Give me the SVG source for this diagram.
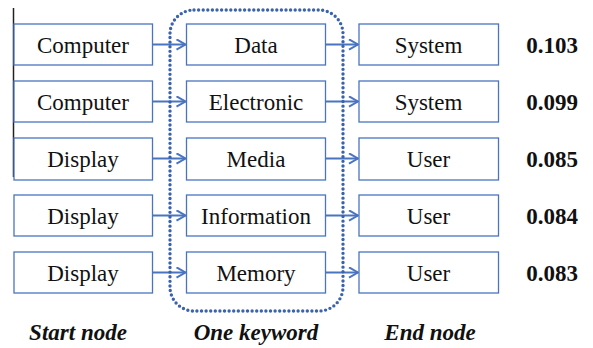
<svg xmlns="http://www.w3.org/2000/svg" width="593" height="348" viewBox="0 0 593 348">
  <style>
    .box { fill: #ffffff; stroke: #4a74c0; stroke-width: 1.3; }
    text { font-size: 23px; fill: #111111; text-anchor: middle; }
    .num { font-weight: bold; }
    .cap { font-weight: bold; font-style: italic; }
    .edge { stroke: #4a74c0; stroke-width: 2; fill: none; }
    .group { fill: none; stroke: #3a62ad; stroke-width: 3.4; stroke-linecap: round; stroke-dasharray: 0 4.6; }
  </style>
  <defs>
    <marker id="arrow" viewBox="0 0 12 12" refX="11" refY="6" markerWidth="12" markerHeight="12" markerUnits="userSpaceOnUse" orient="auto">
      <path d="M2,0.8 L11,6 L2,11.2" fill="none" stroke="#4a74c0" stroke-width="2"/>
    </marker>
  </defs>
  <rect width="593" height="348" fill="#ffffff"/>

  <!-- left border line -->
  <line x1="13.5" y1="8" x2="13.5" y2="177" stroke="#222222" stroke-width="1.5"/>

  <g font-family="Liberation Serif, Times New Roman, serif" style="font-family: 'Liberation Serif', 'Times New Roman', serif">
  <!-- start nodes -->
  <g id="start-1"><rect class="box" x="14" y="24" width="138.5" height="41"/><text x="83" y="52.5">Computer</text></g>
  <g id="start-2"><rect class="box" x="14" y="81" width="138.5" height="41"/><text x="83" y="109.5">Computer</text></g>
  <g id="start-3"><rect class="box" x="14" y="138" width="138.5" height="42"/><text x="83" y="166.5">Display</text></g>
  <g id="start-4"><rect class="box" x="14" y="195" width="138.5" height="41"/><text x="83" y="223.5">Display</text></g>
  <g id="start-5"><rect class="box" x="14" y="252" width="138.5" height="41"/><text x="83" y="280.5">Display</text></g>

  <!-- keyword nodes -->
  <g id="kw-1"><rect class="box" x="186.5" y="24" width="139" height="41"/><text x="256" y="52.5">Data</text></g>
  <g id="kw-2"><rect class="box" x="186.5" y="81" width="139" height="41"/><text x="256" y="109.5">Electronic</text></g>
  <g id="kw-3"><rect class="box" x="186.5" y="138" width="139" height="42"/><text x="256" y="166.5">Media</text></g>
  <g id="kw-4"><rect class="box" x="186.5" y="195" width="139" height="41"/><text x="256" y="223.5">Information</text></g>
  <g id="kw-5"><rect class="box" x="186.5" y="252" width="139" height="41"/><text x="256" y="280.5">Memory</text></g>

  <!-- end nodes -->
  <g id="end-1"><rect class="box" x="359" y="24" width="139.5" height="41"/><text x="428.5" y="52.5">System</text></g>
  <g id="end-2"><rect class="box" x="359" y="81" width="139.5" height="41"/><text x="428.5" y="109.5">System</text></g>
  <g id="end-3"><rect class="box" x="359" y="138" width="139.5" height="42"/><text x="428.5" y="166.5">User</text></g>
  <g id="end-4"><rect class="box" x="359" y="195" width="139.5" height="41"/><text x="428.5" y="223.5">User</text></g>
  <g id="end-5"><rect class="box" x="359" y="252" width="139.5" height="41"/><text x="428.5" y="280.5">User</text></g>

  <!-- scores -->
  <g id="scores">
    <text class="num" x="552" y="53">0.103</text>
    <text class="num" x="552" y="110">0.099</text>
    <text class="num" x="552" y="167">0.085</text>
    <text class="num" x="552" y="224">0.084</text>
    <text class="num" x="552" y="281">0.083</text>
  </g>

  <!-- column captions -->
  <g id="captions">
    <text class="cap" x="78" y="340">Start node</text>
    <text class="cap" x="256" y="340">One keyword</text>
    <text class="cap" x="430" y="340">End node</text>
  </g>
  </g>

  <!-- connectors -->
  <g id="connectors">
    <line class="edge" x1="152.5" y1="44.5" x2="185.5" y2="44.5" marker-end="url(#arrow)"/>
    <line class="edge" x1="152.5" y1="101.5" x2="185.5" y2="101.5" marker-end="url(#arrow)"/>
    <line class="edge" x1="152.5" y1="158.5" x2="185.5" y2="158.5" marker-end="url(#arrow)"/>
    <line class="edge" x1="152.5" y1="215.5" x2="185.5" y2="215.5" marker-end="url(#arrow)"/>
    <line class="edge" x1="152.5" y1="272.5" x2="185.5" y2="272.5" marker-end="url(#arrow)"/>
    <line class="edge" x1="325.5" y1="44.5" x2="358" y2="44.5" marker-end="url(#arrow)"/>
    <line class="edge" x1="325.5" y1="101.5" x2="358" y2="101.5" marker-end="url(#arrow)"/>
    <line class="edge" x1="325.5" y1="158.5" x2="358" y2="158.5" marker-end="url(#arrow)"/>
    <line class="edge" x1="325.5" y1="215.5" x2="358" y2="215.5" marker-end="url(#arrow)"/>
    <line class="edge" x1="325.5" y1="272.5" x2="358" y2="272.5" marker-end="url(#arrow)"/>
  </g>

  <!-- keyword group outline -->
  <rect id="keyword-group" class="group" x="170" y="10" width="173" height="301" rx="24" ry="24"/>
</svg>
